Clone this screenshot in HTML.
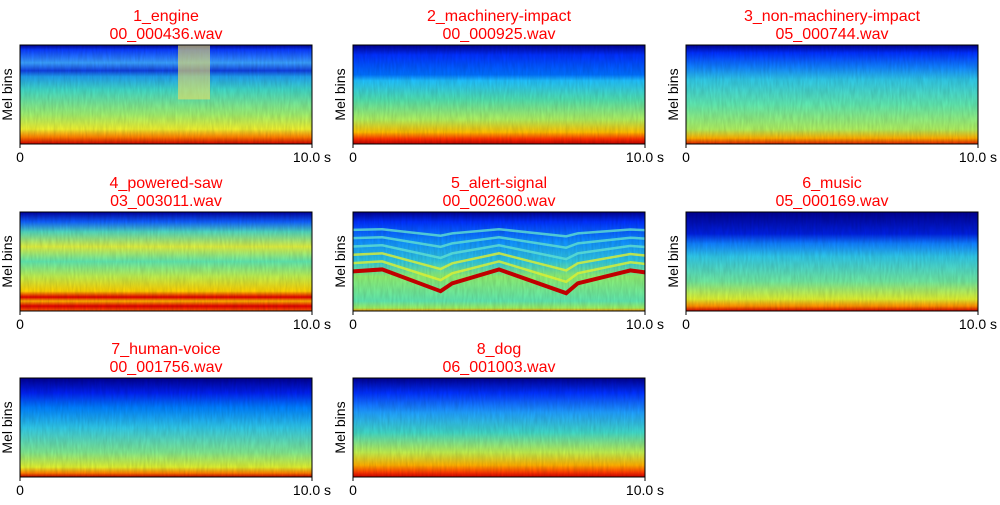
<!DOCTYPE html>
<html><head><meta charset="utf-8"><style>
body{margin:0;background:#fff;width:1000px;height:500px;overflow:hidden}
svg text{font-family:"Liberation Sans","DejaVu Sans",sans-serif}
</style></head><body>
<svg id="fig" width="1000" height="500" xmlns="http://www.w3.org/2000/svg"><defs id="defs"></defs></svg>
<script>
const titles=["1_engine","2_machinery-impact","3_non-machinery-impact","4_powered-saw","5_alert-signal","6_music","7_human-voice","8_dog"];
const files=["00_000436.wav","00_000925.wav","05_000744.wav","03_003011.wav","00_002600.wav","05_000169.wav","00_001756.wav","06_001003.wav"];
const xTicks=["0","10.0 s"];
const duration=10;
// vertical colour profiles (offset 0=top,1=bottom)
const profiles=[
 [[0,"#00008f"],[0.05,"#0a3cff"],[0.18,"#3aa0ff"],[0.26,"#1040e0"],[0.32,"#20a0f0"],[0.45,"#40d8c8"],[0.7,"#a0f070"],[0.85,"#f0f030"],[0.93,"#ff8000"],[1,"#d00000"]],
 [[0,"#000090"],[0.1,"#0030ff"],[0.3,"#0070ff"],[0.36,"#20c0ff"],[0.55,"#50e0b0"],[0.75,"#b0f060"],[0.88,"#ffc000"],[0.95,"#ff3000"],[1,"#c00000"]],
 [[0,"#000090"],[0.08,"#0030ff"],[0.22,"#1080ff"],[0.35,"#30c8e8"],[0.6,"#60e8b0"],[0.85,"#b0f060"],[0.94,"#ffb000"],[1,"#e02000"]],
 [[0,"#0000a0"],[0.1,"#1060ff"],[0.2,"#50d8c0"],[0.35,"#e0f040"],[0.5,"#60e8b0"],[0.65,"#c0f050"],[0.8,"#ffd000"],[0.86,"#e00000"],[0.9,"#ffb000"],[0.95,"#e00000"],[1,"#ff6000"]],
 [[0,"#000090"],[0.1,"#0030ff"],[0.3,"#1090ff"],[0.5,"#30c8e0"],[0.65,"#90f070"],[0.9,"#60e8b0"],[0.97,"#a0f060"],[1,"#ff9000"]],
 [[0,"#000090"],[0.22,"#0020e0"],[0.32,"#1080ff"],[0.45,"#30c8e8"],[0.7,"#70e8a0"],[0.88,"#e0f030"],[0.95,"#ff9000"],[1,"#d00000"]],
 [[0,"#000090"],[0.15,"#0020f0"],[0.3,"#0080ff"],[0.5,"#30c8e8"],[0.75,"#80e890"],[0.9,"#e0f030"],[0.96,"#ff8000"],[1,"#c00000"]],
 [[0,"#000090"],[0.15,"#0030ff"],[0.35,"#20a0ff"],[0.55,"#40d8c8"],[0.75,"#c0f050"],[0.88,"#ffb000"],[0.95,"#ff4000"],[1,"#d00000"]]
];
// alert-signal fundamental contour: times (s) and relative height (0 top,1 bottom)
const alertT=[0,1,3,3.4,5,7.3,7.7,9.5,10];
const alertY=[0.6,0.58,0.8,0.72,0.58,0.82,0.72,0.59,0.61];
const NS="http://www.w3.org/2000/svg";
const svg=document.getElementById('fig'),defs=document.getElementById('defs');
const colX=[20,353,686],rowY=[45,212,378],W=292,H=99;
function mk(t,a,p){const e=document.createElementNS(NS,t);for(const k in a)e.setAttribute(k,a[k]);(p||svg).appendChild(e);return e;}
// texture filter (vertical streak noise)
const f=mk('filter',{id:'tex',x:0,y:0,width:1,height:1},defs);
mk('feTurbulence',{type:'fractalNoise',baseFrequency:'0.5 0.08',numOctaves:2,seed:3,result:'n'},f);
mk('feColorMatrix',{in:'n',type:'matrix',values:'0 0 0 0 0  0 0 0 0 0  0 0 0 0 0  0 0 0 0.5 -0.1',result:'a'},f);
mk('feComposite',{in:'a',in2:'SourceGraphic',operator:'in'},f);
titles.forEach((t,i)=>{
 const x0=colX[i%3],y0=rowY[Math.floor(i/3)];
 const g=mk('linearGradient',{id:'g'+i,x1:0,y1:0,x2:0,y2:1},defs);
 profiles[i].forEach(s=>mk('stop',{offset:s[0],'stop-color':s[1]},g));
 const r=mk('rect',{x:x0,y:y0,width:W,height:H,fill:'url(#g'+i+')'});
 
 
 const tx2=mk('rect',{x:x0,y:y0,width:W,height:H,fill:'#000',filter:'url(#tex)',opacity:0.35});
 
 if(i===0){const b=mk('rect',{x:x0+158,y:y0,width:32,height:H*0.55,fill:'#f0e060',opacity:0.6});
  }
 if(i===4){
  const xs=t=>x0+t/duration*W;
  for(let k=5;k>=0;k--){
   const pts=alertT.map((tt,j)=>xs(tt)+','+(y0+H*(alertY[j]*(1-k*0.14)))).join(' ');
   const l=mk('polyline',{points:pts,fill:'none',stroke:k===0?'#c00000':(k<3?'#e0f030':'#60e0d0'),'stroke-width':k===0?4:2.5,opacity:k===0?1:0.8});
   
  }
 }
 const bd=mk('rect',{x:x0,y:y0,width:W,height:H,fill:'none',stroke:'#000','stroke-width':1});
 
 const tt=mk('text',{x:x0+W/2,y:y0-24,'text-anchor':'middle','font-size':16,fill:'#ff0000'});
 tt.textContent=t;
 const tf=mk('text',{x:x0+W/2,y:y0-6,'text-anchor':'middle','font-size':16,fill:'#ff0000'});
 tf.textContent=files[i];
 xTicks.forEach((lab,j)=>{
  const tx=x0+j*W;
  const tk=mk('line',{x1:tx,x2:tx,y1:y0+H,y2:y0+H+4,stroke:'#000'});
  
  const tl=mk('text',{x:tx,y:y0+H+18,'text-anchor':'middle','font-size':14,fill:'#000'});
  tl.textContent=lab;
 });
 const yl=mk('text',{x:0,y:0,transform:`translate(${x0-8},${y0+H/2}) rotate(-90)`,'text-anchor':'middle','font-size':14,fill:'#000'});
 yl.textContent='Mel bins';
});
</script>
</body></html>
